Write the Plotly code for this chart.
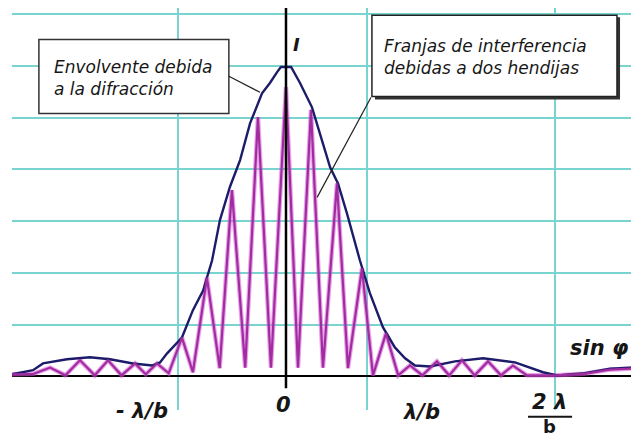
import plotly.graph_objects as go

# Horizontal unit: one fringe spacing (lambda/d); the diffraction minima sit near +-5.
# Vertical unit: one grid division; the envelope peaks at about 6.
envelope_x = [-10.75, -9.92, -9.53, -8.59, -7.69, -6.90, -6.00, -5.25, -4.94, -4.67,
              -4.08, -3.65, -3.25, -3.10, -2.90, -2.59, -2.20, -1.80, -1.41, -0.94,
              -0.63, -0.35, -0.20, 0.20, 0.55, 1.02, 1.41, 1.73, 2.04, 2.39,
              2.90, 3.29, 3.80, 4.27, 4.67, 5.06, 5.65, 6.63, 7.73, 8.98,
              10.08, 10.63, 11.73, 12.71, 13.53]
envelope_y = [0.04, 0.12, 0.25, 0.33, 0.37, 0.33, 0.25, 0.21, 0.27, 0.44,
              0.75, 1.28, 1.66, 1.91, 2.24, 3.02, 3.66, 4.18, 4.89, 5.47,
              5.67, 5.88, 5.98, 5.98, 5.67, 5.20, 4.56, 4.04, 3.73, 3.15,
              2.24, 1.61, 0.95, 0.56, 0.35, 0.21, 0.19, 0.29, 0.35, 0.27,
              0.08, 0.02, 0.06, 0.15, 0.17]

# Two-slit fringes: alternating minima and maxima
fringe_x = [-10.75, -9.90, -9.25, -8.65, -8.08, -7.50, -6.98, -6.45, -5.92, -5.50,
            -5.06, -4.60, -4.08, -3.65, -3.10, -2.60, -2.12, -1.60, -1.10, -0.59,
            0.00, 0.47, 0.98, 1.45, 2.00, 2.43, 2.98, 3.41, 3.92, 4.40,
            4.86, 5.35, 5.92, 6.40, 6.90, 7.40, 7.92, 8.43, 8.90, 9.45,
            10.60, 11.70, 12.70, 13.53]
fringe_y = [0.04, 0.05, 0.17, 0.02, 0.31, 0.02, 0.31, 0.02, 0.25, 0.04,
            0.25, 0.06, 0.75, 0.08, 1.91, 0.16, 3.60, 0.17, 5.01, 0.17,
            5.59, 0.17, 5.15, 0.17, 3.73, 0.16, 2.09, 0.02, 0.83, 0.02,
            0.21, 0.02, 0.29, 0.02, 0.31, 0.02, 0.29, 0.02, 0.21, 0.02,
            0.02, 0.05, 0.13, 0.15]

grid_x = [-4.24, 3.18, 10.55]
grid_y = [1, 2, 3, 4, 5, 6, 7]

axis_labels = ["- λ/b", "0", "λ/b"]
axis_label_x = [-5.65, -0.08, 5.33]

GRID = "#79d4cf"
NAVY = "#1c1c6a"
TXT = "#161616"
FONT = "DejaVu Sans"

fig = go.Figure()
fig.add_trace(go.Scatter(x=fringe_x, y=fringe_y, mode="lines",
                         line=dict(color="#d856d8", width=4.5), opacity=0.55,
                         hoverinfo="skip", showlegend=False))
fig.add_trace(go.Scatter(x=envelope_x, y=envelope_y, mode="lines",
                         line=dict(color=NAVY, width=2.4),
                         hoverinfo="skip", showlegend=False))
fig.add_trace(go.Scatter(x=fringe_x, y=fringe_y, mode="lines",
                         line=dict(color="#a02ca0", width=2.2),
                         hoverinfo="skip", showlegend=False))

shapes = [
    # vertical intensity axis
    dict(type="line", xref="x", yref="y", x0=0, x1=0, y0=-0.23, y1=7.12,
         line=dict(color="black", width=2.5), layer="above"),
    # left callout box
    dict(type="rect", xref="x", yref="y", x0=-9.69, x1=-2.24, y0=5.08, y1=6.51,
         fillcolor="white", line=dict(color="#333333", width=1.5), layer="above"),
    dict(type="line", xref="x", yref="y", x0=-2.24, y0=5.80, x1=-1.02, y1=5.49,
         line=dict(color="#222222", width=1.2), layer="above"),
    # right callout box with shadow
    dict(type="rect", xref="x", yref="y", x0=3.49, x1=13.10, y0=5.35, y1=6.94,
         fillcolor="#333333", line=dict(width=0), layer="above"),
    dict(type="rect", xref="x", yref="y", x0=3.37, x1=12.98, y0=5.41, y1=6.98,
         fillcolor="white", line=dict(color="#222222", width=1.5), layer="above"),
    dict(type="line", xref="x", yref="y", x0=3.33, y0=5.39, x1=1.22, y1=3.46,
         line=dict(color="#222222", width=1.2), layer="above"),
    # fraction bar of 2λ/b
    dict(type="line", xref="x", yref="paper", x0=9.49, x1=11.22, y0=-0.017, y1=-0.017,
         line=dict(color=TXT, width=2), layer="above"),
]

label_font = dict(family=FONT, size=21, style="italic", weight="bold", color=TXT)
annotations = [
    dict(x=-9.18, y=5.77, xref="x", yref="y", xanchor="left", yanchor="middle",
         text="Envolvente debida<br>a la difracción", align="left", showarrow=False,
         font=dict(family=FONT, size=17, style="italic", color=TXT)),
    dict(x=3.76, y=6.18, xref="x", yref="y", xanchor="left", yanchor="middle",
         text="Franjas de interferencia<br>debidas a dos hendijas", align="left",
         showarrow=False,
         font=dict(family=FONT, size=17, style="italic", color=TXT)),
    dict(x=0.43, y=6.42, xref="x", yref="y", text="I", showarrow=False,
         font=dict(family=FONT, size=18, style="italic", weight="bold", color=TXT)),
    dict(x=13.5, y=0.54, xref="x", yref="y", xanchor="right", text="sin φ",
         showarrow=False,
         font=dict(family=FONT, size=21, style="italic", weight="bold", color=TXT)),
    dict(x=10.35, y=0.02, xref="x", yref="paper", yanchor="middle", text="2 λ",
         showarrow=False, font=label_font),
    dict(x=10.35, y=-0.042, xref="x", yref="paper", yanchor="middle", text="b",
         showarrow=False, font=dict(family=FONT, size=18, weight="bold", color=TXT)),
]
label_y = [-0.002, 0.012, -0.004]
for lx, ly, lt in zip(axis_label_x, label_y, axis_labels):
    annotations.append(dict(x=lx, y=ly, xref="x", yref="paper", yanchor="middle",
                            text=lt, showarrow=False, font=label_font))

fig.update_layout(
    width=631, height=439,
    margin=dict(l=12, r=0, t=8, b=29),
    paper_bgcolor="white", plot_bgcolor="white",
    xaxis=dict(range=[-10.745, 13.53], tickvals=grid_x, showticklabels=False,
               showgrid=True, gridcolor=GRID, gridwidth=2, zeroline=False,
               ticks="", showline=False, fixedrange=True),
    yaxis=dict(range=[-0.65, 7.12], tickvals=grid_y, showticklabels=False,
               showgrid=True, gridcolor=GRID, gridwidth=2, zeroline=True,
               zerolinecolor="black", zerolinewidth=2, ticks="", showline=False,
               fixedrange=True),
    shapes=shapes,
    annotations=annotations,
    showlegend=False,
)

fig.write_html("out.html")
